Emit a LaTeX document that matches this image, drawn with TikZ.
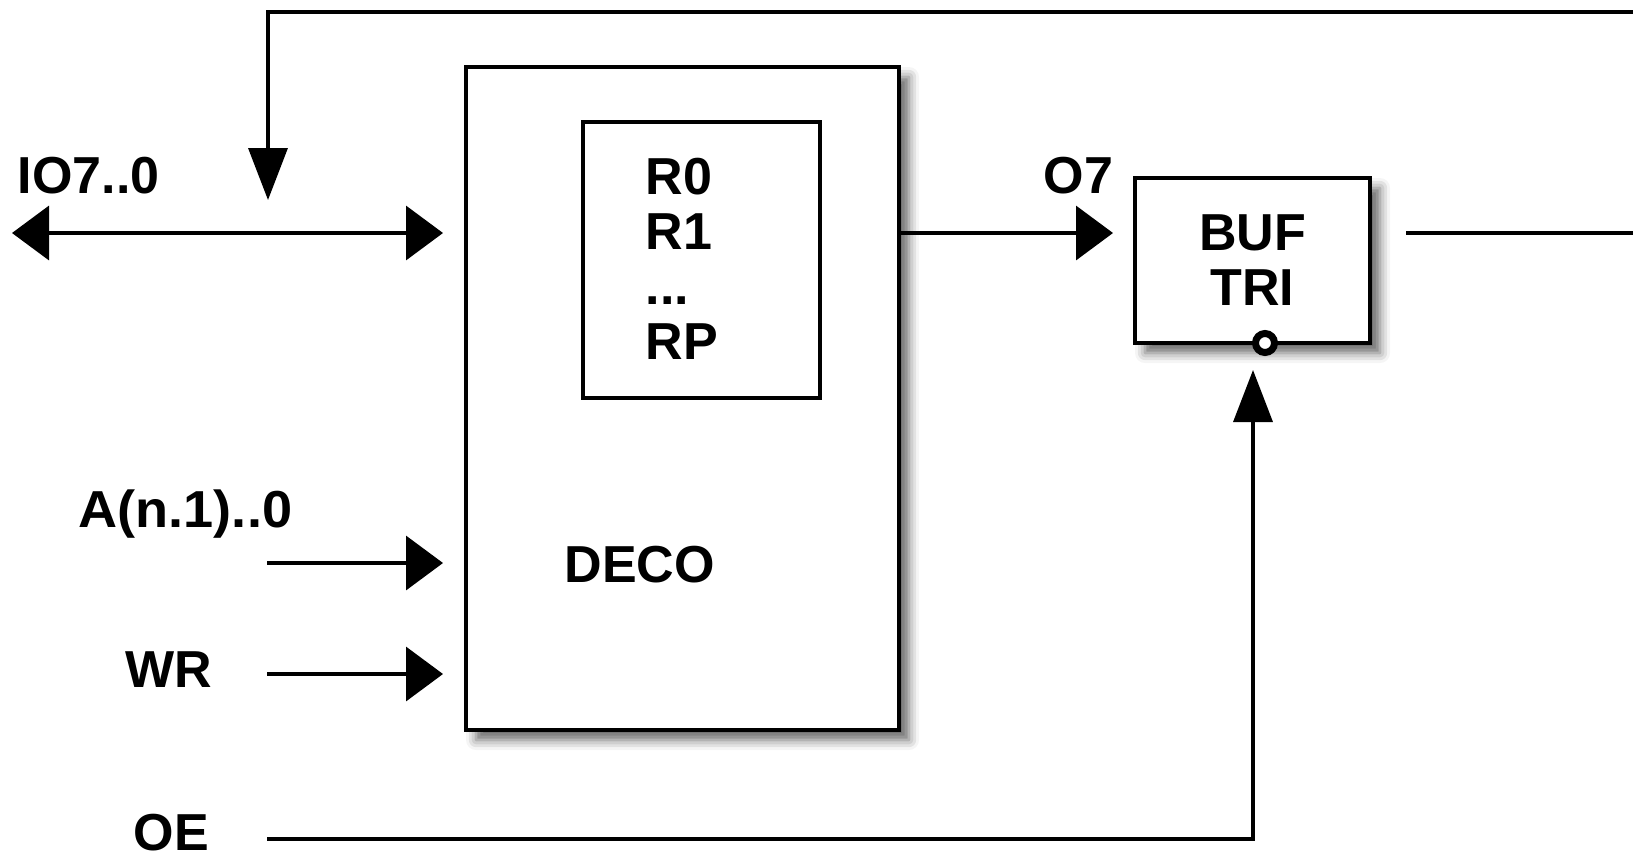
\documentclass[tikz,border=0pt]{standalone}
\usepackage{fontspec}
\setmainfont{Liberation Sans}
\usetikzlibrary{arrows.meta,shadows.blur}

\begin{document}
\begin{tikzpicture}[
  x=0.1mm, y=-0.1mm,
  every node/.style={font=\fontsize{14.8pt}{15.65pt}\selectfont\bfseries, inner sep=0pt},
  blk/.style={draw, line width=0.4mm, fill=white,
    blur shadow={shadow xshift=1mm, shadow yshift=-1mm, shadow blur radius=1mm, shadow opacity=60}},
  wire/.style={line width=0.35mm},
  hsig/.style={wire, -{Triangle[length=3.7mm,width=5.4mm]}},
  vsig/.style={wire, -{Triangle[length=5.2mm,width=3.9mm]}}
]
\useasboundingbox (0,0) rectangle (1633,859);
% blocks
\node[blk, minimum width=43.3mm, minimum height=66.3mm] (deco) at (682.5,398.5) {};
\node[draw, line width=0.4mm, minimum width=23.7mm, minimum height=27.6mm] (regs) at (701.5,260) {};
\node[anchor=north west, align=left] (rlist) at (645,157) {R0\\R1\\...\\RP};
\node[anchor=base west] (decoL) at (564,582) {DECO};
\node[blk, minimum width=23.5mm, minimum height=16.5mm, align=center] (buf) at (1252.5,260.5) {BUF\\TRI};
\node[circle, draw, line width=0.7mm, fill=white, minimum size=1.9mm] (bub) at (1265,343) {};
% labels
\node[anchor=base west] (ioL) at (17,193) {IO7..0};
\node[anchor=base west] (o7L) at (1043,193) {O7};
\node[anchor=base west, xscale=1.04] (aL) at (78,527) {A(n.1)..0};
\node[anchor=base west] (wrL) at (125,687) {WR};
\node[anchor=base west] (oeL) at (133,850) {OE};
% wire ends
\coordinate (io) at (12,233);
\coordinate (fb) at (1633,12);
\coordinate (fbIn) at (268,200);
\coordinate (a) at (267,563);
\coordinate (wr) at (267,674);
\coordinate (oe) at (267,839);
\coordinate (oeIn) at (1253,370);
\coordinate (out) at (1633,233);
% wires
\draw[wire, {Triangle[length=3.7mm,width=5.4mm]}-{Triangle[length=3.7mm,width=5.4mm]}, shorten >=2.1mm] (io) -- (io -| deco.west);
\draw[vsig] (fb) -| (fbIn);
\draw[hsig, shorten >=2.1mm] (a) -- (a -| deco.west);
\draw[hsig, shorten >=2.1mm] (wr) -- (wr -| deco.west);
\draw[hsig, shorten >=2mm] (io -| deco.east) -- (io -| buf.west);
\draw[wire, shorten <=3.4mm] (io -| buf.east) -- (out);
\draw[vsig] (oe) -| (oeIn);
\end{tikzpicture}
\end{document}
